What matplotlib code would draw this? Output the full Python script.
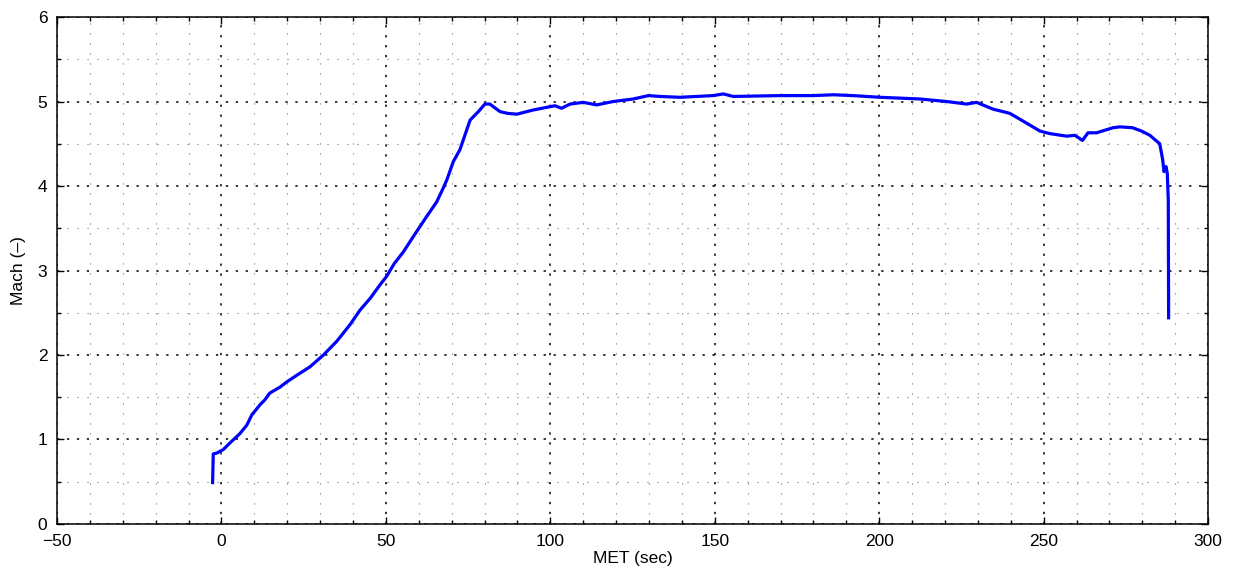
import numpy as np
import matplotlib
matplotlib.use("Agg")
import matplotlib.pyplot as plt
from matplotlib.ticker import MultipleLocator

# =========================================
# DATA
# =========================================

met_sec = [-2.7, -2.5, -1.4, 0.5, 2.6, 5.6, 7.7, 9.2, 11.7, 13.2, 14.7,
           17.8, 19.8, 22.5, 26.9, 31.0, 35.0, 39.1, 42.1, 45.2, 48.2,
           50.2, 52.5, 55.3, 58.3, 62.4, 65.4, 67.0, 68.5, 70.5, 72.5, 74.0,
           75.6, 78.1, 80.1, 81.6, 84.7, 87.0, 89.8, 94.8, 101.4, 103.4,
           106.0, 110.0, 114.1, 119.1, 125.2, 129.8, 133.3, 139.4, 149.5,
           152.6, 155.6, 169.8, 180.0, 186.0, 192.0, 200.2, 212.4, 220.5,
           226.6, 229.6, 234.6, 239.7, 242.8, 248.9, 251.9, 257.0, 259.5,
           261.8, 263.5, 266.1, 271.1, 273.2, 277.0, 279.8, 282.3, 285.3,
           286.2, 286.6, 287.2, 287.6, 287.9, 288.0]

mach = [0.49, 0.83, 0.84, 0.88, 0.96, 1.07, 1.17, 1.29, 1.41, 1.47, 1.55,
        1.62, 1.68, 1.75, 1.86, 2.00, 2.16, 2.36, 2.53, 2.67, 2.83,
        2.93, 3.08, 3.22, 3.40, 3.64, 3.81, 3.94, 4.07, 4.29, 4.43, 4.60,
        4.78, 4.88, 4.97, 4.97, 4.88, 4.86, 4.85, 4.90, 4.95, 4.92,
        4.97, 4.99, 4.96, 5.00, 5.03, 5.07, 5.06, 5.05, 5.07,
        5.09, 5.06, 5.07, 5.07, 5.08, 5.07, 5.05, 5.03, 5.00,
        4.97, 4.99, 4.91, 4.86, 4.79, 4.65, 4.62, 4.59, 4.60,
        4.54, 4.63, 4.63, 4.69, 4.70, 4.69, 4.65, 4.60, 4.50,
        4.31, 4.17, 4.23, 4.15, 3.83, 2.44]

x_limits = (-50, 300)
y_limits = (0, 6)

# =========================================
# PLOT
# =========================================

plt.rcParams["font.family"] = ["Liberation Sans", "DejaVu Sans"]

fig = plt.figure(figsize=(12.35, 5.79), dpi=100)
ax = fig.add_axes([0.0462, 0.095, 0.9320, 0.8756])

ax.plot(met_sec, mach, color="#0000ff", linewidth=2.3, zorder=3)

ax.set_xlim(*x_limits)
ax.set_ylim(*y_limits)

ax.xaxis.set_major_locator(MultipleLocator(50))
ax.xaxis.set_minor_locator(MultipleLocator(10))
ax.yaxis.set_major_locator(MultipleLocator(1))
ax.yaxis.set_minor_locator(MultipleLocator(0.5))

# matlab style grid
ax.grid(which="major", color="black", linestyle=(0, (1.5, 5)), linewidth=1.1)
ax.grid(which="minor", color="0.45", linestyle=(0, (1, 8)), linewidth=0.8)
ax.set_axisbelow(True)

ax.tick_params(which="both", direction="in", top=True, right=True,
               labelsize=12.5, width=1.0)
ax.tick_params(which="major", length=5)
ax.tick_params(which="minor", length=3)
ax.tick_params(axis="x", which="major", pad=7)
ax.tick_params(axis="y", which="major", pad=7)

for spine in ax.spines.values():
    spine.set_linewidth(1.1)

ax.set_xlabel("MET (sec)", fontsize=12.5, labelpad=2)
ax.set_ylabel("Mach (\u2013)", fontsize=12.5, labelpad=8)

fig.savefig("out.png", dpi=100)
